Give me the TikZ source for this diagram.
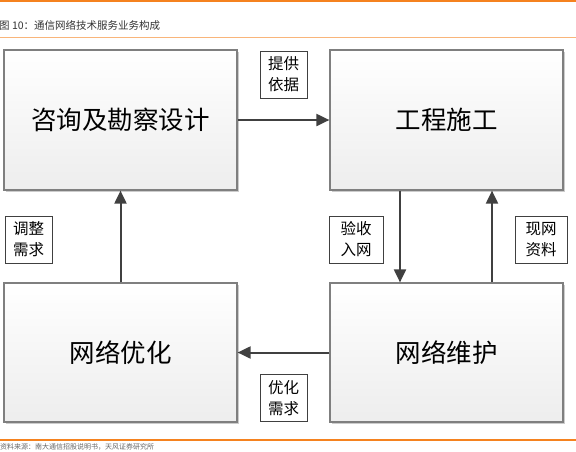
\documentclass[tikz,border=0pt]{standalone}
\usepackage{fontspec}
\newfontfamily\cjk{Noto Sans CJK SC}
\usetikzlibrary{arrows.meta,shadows}
\definecolor{orangeA}{HTML}{F5821F}
\definecolor{orangeB}{HTML}{F9B57A}
\definecolor{arrowc}{HTML}{404040}
\definecolor{boxborder}{HTML}{7F7F7F}
\tikzset{
  bigbox/.style={draw=boxborder, line width=1.2pt, top color=white, bottom color=black!7,
    minimum width=233pt, minimum height=140pt, inner sep=0pt,
    font=\cjk\fontsize{25.5}{30}\selectfont,
    drop shadow={shadow xshift=1.6pt, shadow yshift=-1.6pt, fill=black!25, opacity=0.8}},
  lab/.style={draw=black!75, line width=0.8pt, fill=white, align=center,
    minimum width=47pt, minimum height=47pt, inner sep=1pt,
    font=\cjk\fontsize{15.5}{21}\selectfont},
  arr/.style={draw=arrowc, line width=2pt, -{Triangle[length=13pt,width=12pt]}}
}
\begin{document}
\begin{tikzpicture}[x=1pt,y=-1pt]
\useasboundingbox (0,0) rectangle (576,451);
\clip (0,0) rectangle (576,451);
% header and footer rules
\draw[orangeA, line width=2.2pt] (0,1) -- (576,1);
\node[anchor=west, inner sep=0pt, text=black!80, font=\cjk\fontsize{10.5}{12}\selectfont] (title) at (-1,25) {图 10：通信网络技术服务业务构成};
\draw[orangeB, line width=1pt] (0,37) -- (576,37);
\draw[orangeA, line width=1.2pt] (0,440) -- (576,440);
\node[anchor=west, inner sep=0pt, text=black!60, font=\cjk\fontsize{7}{8}\selectfont] (src) at (0,446.5) {资料来源：南大通信招股说明书，天风证券研究所};
% main boxes
\node[bigbox] (b1) at (120.5,120) {咨询及勘察设计};
\node[bigbox] (b2) at (446.5,120) {工程施工};
\node[bigbox, minimum height=139pt] (b3) at (120.5,352.5) {网络优化};
\node[bigbox, minimum height=139pt] (b4) at (446.5,352.5) {网络维护};
% arrows
\draw[arr] (b1.east) -- (b2.west);
\draw[arr] (b3.north) -- (b1.south);
\draw[arr] ([xshift=-46.5pt]b2.south) -- ([xshift=-46.5pt]b4.north);
\draw[arr] ([xshift=45.5pt]b4.north) -- ([xshift=45.5pt]b2.south);
\draw[arr] (b4.west) -- (b3.east);
% labels
\node[lab] (l1) at (283.5,74.5) {提供\\依据};
\node[lab] (l2) at (28.5,239.5) {调整\\需求};
\node[lab, minimum width=54pt] (l3) at (356,239.5) {验收\\入网};
\node[lab, minimum width=52pt] (l4) at (541,239.5) {现网\\资料};
\node[lab] (l5) at (283.5,398) {优化\\需求};
\end{tikzpicture}
\end{document}
